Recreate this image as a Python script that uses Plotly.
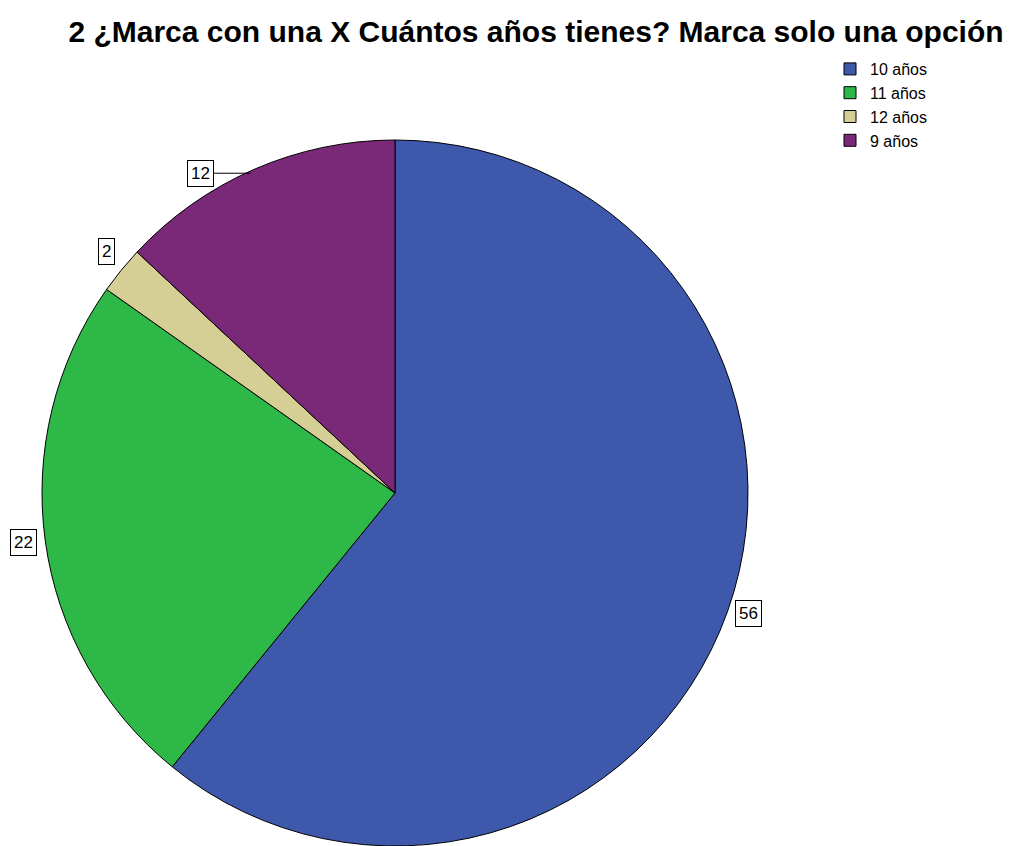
import math
import plotly.graph_objects as go

# Age distribution
labels = ["10 años", "11 años", "12 años", "9 años"]
counts = [56, 22, 2, 12]
colors = ["#3E58AC", "#2EB848", "#D5CF96", "#7A2878"]

W, H = 1023, 846
# pie geometry in pixels
cx, cy, r = 395, 493, 353

fig = go.Figure(go.Pie(
    labels=labels,
    values=counts,
    sort=False,
    direction="clockwise",
    rotation=0,
    marker=dict(colors=colors, line=dict(color="black", width=1)),
    textinfo="none",
    hoverinfo="label+value",
    domain=dict(x=[(cx - r) / W, (cx + r) / W], y=[0, 2 * r / H]),
))

# value labels placed just outside each slice at its mid angle
total = sum(counts)
acc = 0
annotations = []
for i, v in enumerate(counts):
    mid = (acc + v / 2) / total * 2 * math.pi
    acc += v
    px = cx + r * math.sin(mid)
    py = cy - r * math.cos(mid)
    sx, sy = math.sin(mid), -math.cos(mid)
    ann = dict(
        text=str(v), xref="paper", yref="paper",
        font=dict(family="Liberation Sans, Arial", size=17, color="black"),
        bordercolor="black", borderwidth=1, borderpad=3, bgcolor="white",
    )
    if labels[i] == "9 años":
        ann.update(x=(px - 4) / W, y=1 - (py + 4) / H, showarrow=True,
                   arrowhead=0, arrowwidth=1, arrowcolor="black",
                   ax=-50, ay=0, standoff=0)
    else:
        gap = 8
        ann.update(
            x=(px + sx * gap) / W, y=1 - (py + sy * gap) / H, showarrow=False,
            xanchor="left" if sx > 0.3 else ("right" if sx < -0.3 else "center"),
            yanchor="middle" if abs(sy) < 0.5 else ("bottom" if sy < 0 else "top"),
        )
    annotations.append(ann)

fig.update_layout(
    width=W, height=H,
    margin=dict(l=0, r=0, t=0, b=0),
    paper_bgcolor="white",
    title=dict(
        text="<b>2 ¿Marca con una X Cuántos años tienes? Marca solo una opción</b>",
        x=536 / W, xanchor="center", y=1 - 31 / H, yanchor="middle",
        font=dict(family="Liberation Sans, Arial", size=30, color="black"),
    ),
    legend=dict(
        x=830 / W, y=1 - 52 / H, xanchor="left", yanchor="top",
        font=dict(family="Liberation Sans, Arial", size=16, color="black"),
        itemwidth=30, tracegroupgap=0,
    ),
    annotations=annotations,
)

fig.write_html("out.html")
